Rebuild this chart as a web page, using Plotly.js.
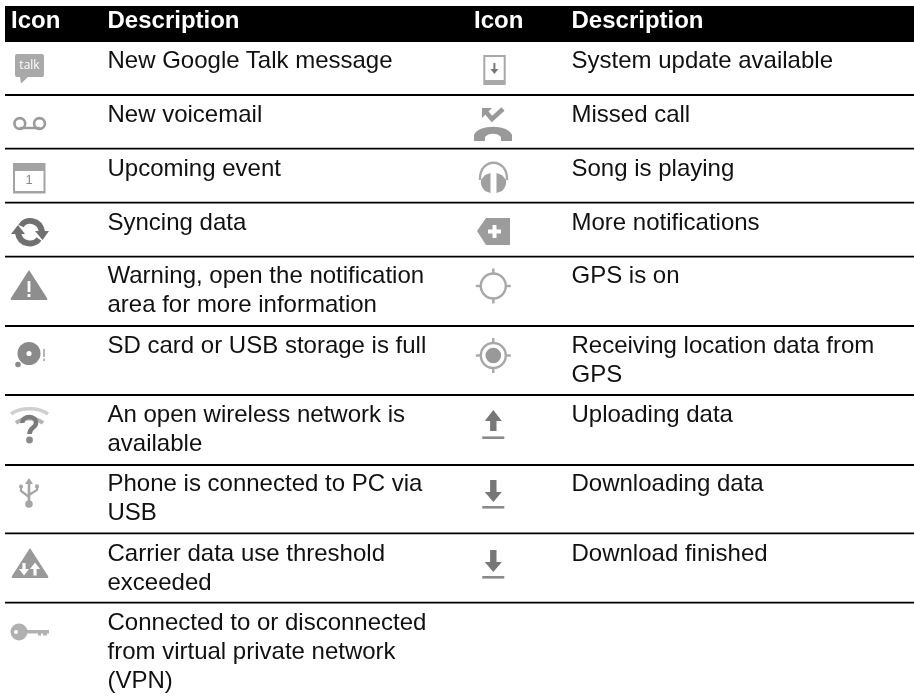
<!DOCTYPE html>
<html>
<head>
<meta charset="utf-8">
<script src="https://cdn.plot.ly/plotly-3.0.1.min.js"></script>
<style>html,body{margin:0;padding:0;background:#fff}#chart{width:914px;height:699px;filter:blur(0.35px)}</style>
</head>
<body>
<div id="chart"></div>
<script>
// ---- table content ----
const headerLeft = ["Icon", "Description"];
const headerRight = ["Icon", "Description"];
const leftDescriptions = [
  "New Google Talk message",
  "New voicemail",
  "Upcoming event",
  "Syncing data",
  "Warning, open the notification|area for more information",
  "SD card or USB storage is full",
  "An open wireless network is|available",
  "Phone is connected to PC via|USB",
  "Carrier data use threshold|exceeded",
  "Connected to or disconnected|from virtual private network|(VPN)"
];
const rightDescriptions = [
  "System update available",
  "Missed call",
  "Song is playing",
  "More notifications",
  "GPS is on",
  "Receiving location data from|GPS",
  "Uploading data",
  "Downloading data",
  "Download finished"
];

// ---- page layout ----
const W = 914, H = 699;
const ruleY = [95, 148.7, 202.7, 256.7, 326, 395, 465, 533.3, 602.7];
const firstLineY = [62, 116, 170, 224, 276.5, 346.5, 415.5, 484.5, 554.5, 624];
const lineStep = 29;
const FS = 24;
const COL = {iconHeadL: 11, descL: 107.5, iconHeadR: 474, descR: 571.5};
const FONT = '"Liberation Sans", Arial, sans-serif';

// ---- helpers for drawing shapes in page pixels ----
const shapes = [];
const fillShape = (path, color) => shapes.push({type:'path', path, fillcolor:color, line:{width:0}, layer:'below', xref:'x', yref:'y'});
const strokeShape = (path, color, width) => shapes.push({type:'path', path, fillcolor:'rgba(0,0,0,0)', line:{color, width}, layer:'below', xref:'x', yref:'y'});
const rect = (x0,y0,x1,y1,color) => shapes.push({type:'rect', x0,y0,x1,y1, fillcolor:color, line:{width:0}, layer:'below', xref:'x', yref:'y'});
const disc = (cx,cy,r,color) => shapes.push({type:'circle', x0:cx-r,x1:cx+r,y0:cy-r,y1:cy+r, fillcolor:color, line:{width:0}, layer:'below', xref:'x', yref:'y'});
const ring = (cx,cy,r,color,w) => shapes.push({type:'circle', x0:cx-r,x1:cx+r,y0:cy-r,y1:cy+r, fillcolor:'rgba(0,0,0,0)', line:{color,width:w}, layer:'below', xref:'x', yref:'y'});
const line = (x0,y0,x1,y1,color,w) => shapes.push({type:'line', x0,y0,x1,y1, line:{color,width:w}, layer:'below', xref:'x', yref:'y'});

// header band and row rules
rect(5, 6, W, 42, '#000');
ruleY.forEach(y => line(5, y, W, y, '#000', 1.8));

// ---- icons, left column ----
// talk
fillShape('M17,54 L42,54 Q44,54 44,56 L44,75 Q44,77 42,77 L28,77 L21,83.5 L20,77 L17,77 Q15,77 15,75 L15,56 Q15,54 17,54 Z', '#a9a9a9');
// voicemail
ring(19.8, 123.5, 5.4, '#9a9a9a', 2.6); ring(39.5, 123.5, 5.4, '#9a9a9a', 2.6); line(20, 128, 39.5, 128, '#9a9a9a', 2.4);
// calendar
rect(13, 163, 45.5, 193.5, '#a3a3a3'); rect(15, 171, 43.5, 191, '#ffffff');
// sync
strokeShape('M21,226 C25,218 40,219 42,232', '#707070', 6);
fillShape('M35,231 L49,231 L42.5,240 Z', '#707070');
strokeShape('M39,239 C34,246 20,245 18,233', '#707070', 6);
fillShape('M11,234 L25,234 L18,225 Z', '#707070');
// warning
fillShape('M29,270 L47,298 Q48,300 46,300 L12,300 Q10,300 11,298 Z', '#8e8e8e');
rect(27.6, 281, 30.4, 292, '#ffffff'); rect(27.6, 294, 30.4, 297, '#ffffff');
// sd card full
disc(29, 353.5, 11.5, '#8a8a8a'); disc(29, 353.5, 2.6, '#ffffff'); disc(18, 364.5, 2.8, '#8a8a8a');
rect(43, 349, 45, 357, '#b5b5b5'); rect(43, 358.5, 45, 361, '#b5b5b5');
// open wifi
strokeShape('M11,414 C20,407 39,407 48,414', '#cfcfcf', 3.5);
strokeShape('M16,423 C24,417 35,417 43,423', '#b4b4b4', 4);
strokeShape('M22.5,423 C22,415 36.5,415 36,423 C36,428 29.5,427 29.5,434', '#7b7b7b', 4.5);
disc(29.5, 440, 3.4, '#8a8a8a');
// usb
line(29, 481, 29, 503, '#a5a5a5', 2.6); fillShape('M29,478 L33,484 L25,484 Z', '#a5a5a5');
disc(29, 504, 3.8, '#a5a5a5');
strokeShape('M21,488 L21,491 L29,497', '#a5a5a5', 2.2); strokeShape('M37,488 L37,490 L29,495', '#a5a5a5', 2.2);
disc(21, 486.5, 2, '#a5a5a5'); rect(35.2, 484.5, 38.8, 488, '#a5a5a5');
// carrier threshold
fillShape('M30,548 L48,576 Q49,578 47,578 L13,578 Q11,578 12,576 Z', '#999999');
rect(22.4, 563, 25.6, 570, '#ffffff'); fillShape('M19,569 L29,569 L24,575.5 Z', '#ffffff');
rect(33.4, 568, 36.6, 575.5, '#ffffff'); fillShape('M30,569 L40,569 L35,562.5 Z', '#ffffff');
// vpn key
disc(19, 632, 8.5, '#b0b0b0'); disc(16, 632, 2, '#ffffff');
rect(25, 630, 49, 633.5, '#b0b0b0'); rect(38, 633, 41, 635.5, '#b0b0b0'); rect(43, 633, 47, 635.5, '#b0b0b0');

// ---- icons, right column ----
const cxR = 493.3;
// system update
rect(483.3, 55, 505.7, 85, '#a8a8a8'); rect(485.3, 57, 503.7, 80, '#ffffff');
rect(493.4, 63, 495.4, 70, '#777777'); fillShape('M490.4,69 L498.4,69 L494.4,74 Z', '#777777');
// missed call
strokeShape('M486,112 L492,119 L503,109', '#999999', 4.5);
fillShape('M482,108 L492,108 L482,118 Z', '#999999');
fillShape('M474,141 L474,135 C478,124 508,124 512,135 L512,141 L501,141 L501,137 C498,132.5 488,132.5 485,137 L485,141 Z', '#999999');
// headphones
strokeShape('M480,180 C479,157 508,157 507,180', '#a8a8a8', 2.4);
fillShape('M485,175 L490.5,173 L490.5,193 L485,191 Q480,186 481,180 Z', '#a0a0a0');
fillShape('M502,175 L496.5,173 L496.5,193 L502,191 Q507,186 506,180 Z', '#a0a0a0');
// more notifications
fillShape('M510,218 L486,218 L477,231 L486,245 L510,245 Z', '#9c9c9c');
rect(488, 229.5, 501, 233.5, '#ffffff'); rect(492.5, 225, 496.5, 238, '#ffffff');
// gps on
ring(cxR, 286, 12.5, '#a8a8a8', 2.4);
[[0,-1],[0,1],[-1,0],[1,0]].forEach(d => line(cxR+d[0]*12.5, 286+d[1]*12.5, cxR+d[0]*17.5, 286+d[1]*17.5, '#a8a8a8', 2.4));
// gps receiving
ring(cxR, 355.5, 12.5, '#a8a8a8', 2.4); disc(cxR, 355.5, 7.8, '#999999');
[[0,-1],[0,1],[-1,0],[1,0]].forEach(d => line(cxR+d[0]*12.5, 355.5+d[1]*12.5, cxR+d[0]*17.5, 355.5+d[1]*17.5, '#a8a8a8', 2.4));
// uploading
fillShape(`M${cxR},410 L${cxR+8.5},421 L${cxR+3.2},421 L${cxR+3.2},431 L${cxR-3.2},431 L${cxR-3.2},421 L${cxR-8.5},421 Z`, '#777777');
rect(cxR-11, 436.4, cxR+11, 439, '#8a8a8a');
// downloading + download finished
[0, 70].forEach(dy => {
  fillShape(`M${cxR},${502+dy} L${cxR+8.5},${492+dy} L${cxR+3.2},${492+dy} L${cxR+3.2},${480+dy} L${cxR-3.2},${480+dy} L${cxR-3.2},${492+dy} L${cxR-8.5},${492+dy} Z`, '#777777');
  rect(cxR-11, 506+dy, cxR+11, 508.6+dy, '#8a8a8a');
});

// ---- text traces ----
function textColumn(rows, x) {
  const xs = [], ys = [], ts = [];
  rows.forEach((t, i) => t.split('|').forEach((s, j) => {
    xs.push(x); ys.push(firstLineY[i] + j * lineStep); ts.push(s);
  }));
  return {xs, ys, ts};
}
const L = textColumn(leftDescriptions, COL.descL);
const R = textColumn(rightDescriptions, COL.descR);
const base = {type:'scatter', mode:'text', textposition:'middle right', hoverinfo:'skip', cliponaxis:false, showlegend:false};
const data = [
  Object.assign({}, base, {x:L.xs, y:L.ys, text:L.ts, textfont:{family:FONT, size:FS, color:'#111'}}),
  Object.assign({}, base, {x:R.xs, y:R.ys, text:R.ts, textfont:{family:FONT, size:FS, color:'#111'}}),
  Object.assign({}, base, {
    x:[COL.iconHeadL, COL.descL, COL.iconHeadR, COL.descR], y:[22,22,22,22],
    text:[...headerLeft, ...headerRight], textfont:{family:FONT, size:FS, color:'#fff', weight:'bold'}
  }),
  Object.assign({}, base, {x:[29.5], y:[66], text:['talk'], textposition:'middle center', textfont:{family:'"Open Sans", sans-serif', size:12, color:'#fff'}}),
  Object.assign({}, base, {x:[29], y:[181], text:['1'], textposition:'middle center', textfont:{family:'"Liberation Sans", sans-serif', size:13, color:'#888'}})
];

const hidden = {visible:false, fixedrange:true};
Plotly.newPlot('chart', data, {
  width:W, height:H,
  margin:{l:0,r:0,t:0,b:0,pad:0},
  paper_bgcolor:'#fff', plot_bgcolor:'#fff',
  xaxis:Object.assign({range:[0,W]}, hidden),
  yaxis:Object.assign({range:[H,0]}, hidden),
  shapes
}, {staticPlot:true, displayModeBar:false});
</script>
</body>
</html>
